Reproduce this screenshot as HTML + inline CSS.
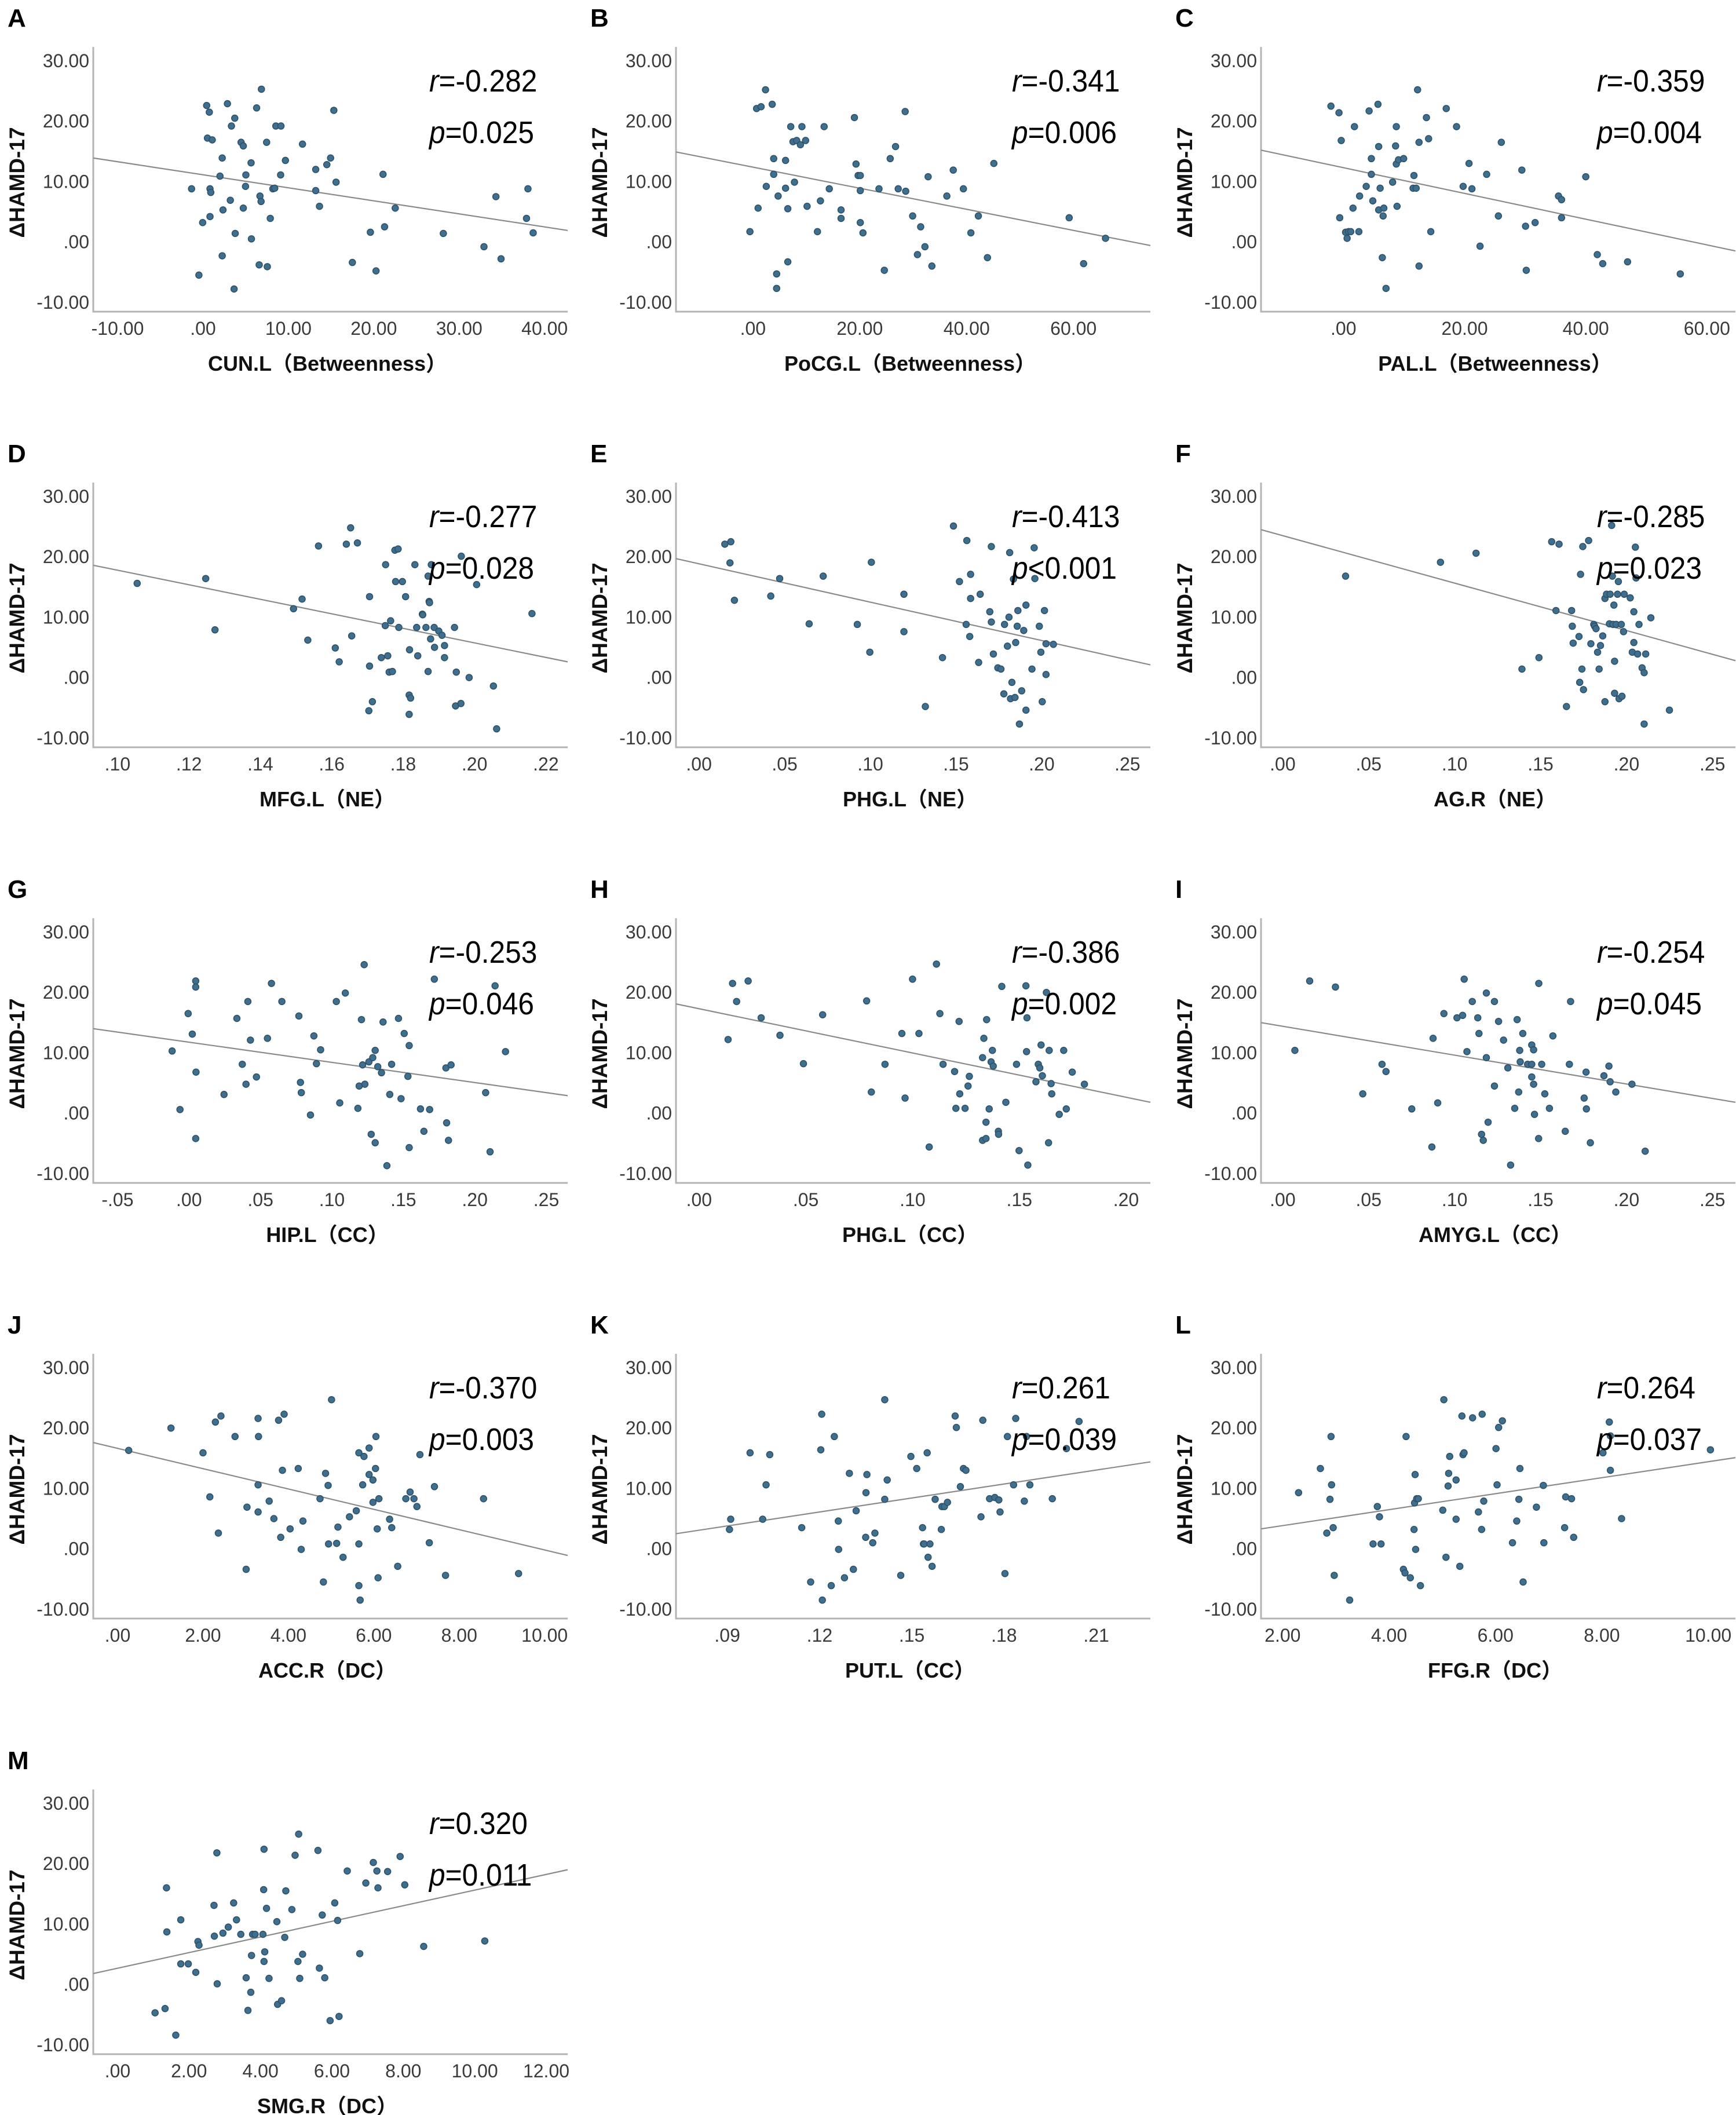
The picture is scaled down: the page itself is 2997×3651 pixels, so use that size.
<!DOCTYPE html>
<html><head><meta charset="utf-8"><style>
html,body{margin:0;padding:0;background:#fff;}
svg{display:block;}
</style></head><body>
<svg id="fig" width="2997" height="3651" viewBox="0 0 2997 3651" xmlns="http://www.w3.org/2000/svg" font-family="'Liberation Sans','Noto Sans CJK SC',sans-serif"></svg>
<script>
// ---------- data ----------
const panelLetters = ["A","B","C","D","E","F","G","H","I","J","K","L","M"];
const xLabels = ["CUN.L（Betweenness）","PoCG.L（Betweenness）","PAL.L（Betweenness）","MFG.L（NE）","PHG.L（NE）","AG.R（NE）","HIP.L（CC）","PHG.L（CC）","AMYG.L（CC）","ACC.R（DC）","PUT.L（CC）","FFG.R（DC）","SMG.R（DC）"];
const rTexts = ["-0.282","-0.341","-0.359","-0.277","-0.413","-0.285","-0.253","-0.386","-0.254","-0.370","0.261","0.264","0.320"];
const pTexts = ["=0.025","=0.006","=0.004","=0.028","<0.001","=0.023","=0.046","=0.002","=0.045","=0.003","=0.039","=0.037","=0.011"];
const yTicks = [30,20,10,0,-10];
const xTicksA = [-10,0,10,20,30,40];
const xTicksB = [0,20,40,60];
const xTicksC = [0,20,40,60];
const xTicksD = [.10,.12,.14,.16,.18,.20,.22];
const xTicksE = [0,.05,.10,.15,.20,.25];
const xTicksF = [0,.05,.10,.15,.20,.25];
const xTicksG = [-.05,0,.05,.10,.15,.20,.25];
const xTicksH = [0,.05,.10,.15,.20];
const xTicksI = [0,.05,.10,.15,.20,.25];
const xTicksJ = [0,2,4,6,8,10];
const xTicksK = [.09,.12,.15,.18,.21];
const xTicksL = [2,4,6,8,10];
const xTicksM = [0,2,4,6,8,10,12];
const xDomainMin = [-12.85,-14.4,-13.6,.0932,-.0134,-.0126,-.067,-.0108,-.0126,-.57,.0733,1.594,-.68];
const xDomainMax = [42.7,74.4,64.7,.2261,.2634,.2634,.265,.2114,.2634,10.54,.2276,10.51,12.6];
const fitStartY = [13.9,14.9,15.2,18.6,19.7,24.5,14.0,18.1,15.0,17.6,2.5,3.3,1.8];
const fitEndY = [1.9,-0.6,-1.5,2.6,2.1,2.8,2.9,1.8,1.8,-1.1,14.4,15.1,19.0];

const xA=[-1.34,-0.48,-0.04,0.43,0.52,0.74,0.82,0.82,0.91,1.08,2.25,1.99,2.34,2.25,2.86,3.2,3.33,3.72,3.77,3.64,4.46,4.72,4.72,4.98,5.02,5.63,5.67,6.28,6.58,6.67,6.8,6.84,7.45,7.53,7.88,8.18,8.4,8.53,9.13,9.09,9.65,11.65,13.2,13.2,13.64,14.5,14.94,15.32,15.58,17.49,19.6,20.26,21.08,21.26,22.51,28.14,32.9,34.3,34.9,38.05,37.88,38.66];
const yA=[8.8,-5.5,3.2,22.6,17.2,21.5,4.2,8.8,8.2,16.9,13.9,10.9,5.3,-2.3,22.9,6.9,19.2,20.5,1.4,-7.8,16.5,15.9,5.6,9.2,11.1,13.1,0.5,22.2,-3.8,7.6,6.7,25.3,16.5,-4.1,3.9,8.8,8.9,19.2,19.2,11.1,13.5,16.2,12.0,8.5,5.9,12.8,13.9,21.8,9.9,-3.4,1.6,-4.8,11.2,2.5,5.6,1.4,-0.8,7.5,-2.8,8.8,3.9,1.5];
const xB=[-0.56,0.97,0.69,1.53,2.36,2.5,3.61,3.89,3.89,4.44,4.44,4.72,6.11,6.11,6.53,6.53,7.08,7.5,7.78,8.19,8.89,9.17,9.86,10.14,12.08,12.64,13.33,14.3,16.5,16.5,19.0,19.3,19.7,20.1,20.1,20.1,20.6,24.6,23.6,25.7,26.7,27.2,28.5,28.6,29.9,30.8,31.4,32.2,32.8,33.5,36.3,37.5,39.4,40.8,42.2,43.9,45.1,59.2,61.9,66.0];
const yB=[1.7,5.6,22.1,22.4,25.2,9.2,22.8,13.8,11.2,-5.3,-7.7,7.6,13.5,8.9,5.5,-3.3,19.1,16.6,9.9,16.8,16.1,19.1,16.8,5.9,1.7,6.8,19.1,8.8,5.3,3.9,20.6,12.9,11.0,11.0,8.5,3.2,1.5,-4.7,8.8,13.8,15.8,8.8,21.6,8.4,4.3,-2.1,2.5,-0.8,10.8,-4.0,7.6,11.9,8.8,1.5,4.3,-2.6,13.0,4.0,-3.6,0.6];
const xC=[-2.06,-0.73,-0.61,-0.36,0.36,0.61,0.85,1.21,1.58,1.82,2.55,2.67,3.76,4.24,4.61,4.61,4.85,5.82,5.7,6.06,5.82,6.42,6.55,6.67,7.03,8.12,8.61,8.73,8.73,8.85,9.09,9.94,11.64,11.5,12.0,12.24,12.48,12.48,13.7,14.06,14.42,16.97,18.67,19.76,20.73,21.21,22.55,23.64,25.58,26.06,29.45,30.06,30.18,31.64,35.5,36.0,36.0,40.0,41.9,42.8,46.9,55.6];
const yC=[22.5,21.4,4.0,16.8,1.6,0.6,1.7,1.7,5.6,19.1,1.7,7.6,9.2,21.7,11.2,13.8,6.8,5.3,22.8,8.9,15.8,-2.6,4.3,5.6,-7.7,9.9,15.9,12.9,19.1,5.9,13.6,13.8,11.0,8.9,8.9,25.2,16.5,-4.0,20.6,17.1,1.7,22.1,19.1,9.2,13.0,8.8,-0.7,11.2,4.3,16.5,11.9,2.6,-4.7,3.2,7.6,7.0,4.0,10.8,-2.1,-3.6,-3.3,-5.3];
const xD=[.1055,.1247,.1273,.1493,.1517,.1533,.1563,.161,.1621,.1641,.1653,.1656,.1672,.1706,.1706,.1704,.1714,.1739,.175,.1751,.1757,.1761,.1765,.177,.1777,.1779,.1786,.1788,.1798,.1807,.1817,.1818,.1821,.1817,.1833,.1838,.1841,.1854,.1855,.1864,.187,.187,.1873,.1874,.1877,.1879,.1887,.1888,.19,.1909,.1916,.1916,.1947,.1944,.1949,.1962,.1963,.1985,.2006,.2053,.2062,.2161];
const yD=[15.6,16.4,7.9,11.4,13.0,6.2,21.8,4.9,2.6,22.1,24.8,6.9,22.3,13.4,1.9,-5.5,-4.0,3.3,8.6,18.7,3.6,0.9,9.4,1.0,21.1,15.9,21.3,8.3,15.9,13.4,-2.9,4.6,-3.4,-6.1,18.7,8.3,3.6,10.5,10.4,8.3,1.0,16.8,12.6,12.4,6.4,18.7,8.3,5.0,7.7,7.0,5.3,3.3,-4.7,8.3,0.9,-4.3,20.1,0.0,15.4,-1.4,-8.5,10.6];
const xE=[.0151,.0186,.0181,.0207,.0419,.0471,.0643,.0725,.0924,.1006,.0997,.1196,.1196,.1321,.1421,.1485,.152,.1563,.1559,.158,.1585,.1585,.1632,.1641,.1697,.1706,.1706,.1718,.1744,.1762,.1779,.1783,.18,.1809,.1813,.1818,.1826,.1835,.1844,.1848,.1857,.1861,.187,.1883,.1895,.1908,.1908,.1943,.1956,.196,.1986,.1995,.2003,.2016,.2025,.2025,.2068];
const yE=[22.1,22.5,19.0,12.8,13.5,16.4,8.9,16.8,8.8,19.1,4.2,13.8,7.6,-4.8,3.3,25.1,15.9,22.7,8.8,6.8,13.1,17.1,2.5,13.8,10.9,9.2,21.7,3.9,1.6,1.4,-2.7,8.8,5.2,10.0,20.7,-3.5,-0.8,16.3,-3.3,5.8,8.5,11.1,-7.7,-2.2,7.8,-5.4,12.0,1.4,21.5,16.4,8.5,4.2,-4.0,11.1,0.5,5.6,5.5];
const xF=[.0366,.0918,.1125,.1392,.1491,.1565,.1608,.159,.1651,.1681,.1685,.169,.1724,.1728,.1733,.1741,.175,.1746,.178,.1793,.181,.1815,.1823,.1832,.1841,.1849,.1862,.1875,.1875,.1884,.1901,.1905,.1914,.1918,.1922,.1927,.1931,.1931,.194,.1948,.1953,.1957,.197,.1974,.1983,.1987,.2022,.2034,.2043,.2043,.2052,.2056,.2065,.2073,.2091,.2103,.2103,.2112,.2142,.225];
const yF=[16.8,19.1,20.6,1.4,3.3,22.5,22.1,11.1,-4.8,11.1,8.5,5.7,6.8,-0.8,17.1,1.4,-2.0,21.7,22.7,5.6,8.8,8.5,8.1,4.2,1.4,5.3,6.9,13.1,-4.0,13.8,8.9,13.8,25.2,16.8,8.8,12.0,2.7,-2.6,8.8,13.8,15.9,-3.5,8.8,-3.1,7.6,13.8,13.2,4.2,10.9,5.8,21.6,16.5,3.9,8.8,1.6,0.8,-7.7,3.9,9.9,-5.4];
const xG=[-.0118,-.0063,-.0006,.0023,.0047,.0047,.0049,.0047,.0245,.0335,.0373,.0399,.0412,.043,.0472,.0549,.0577,.065,.0769,.078,.0786,.085,.0874,.0892,.0921,.1031,.1055,.1094,.1182,.1191,.1207,.1215,.1226,.1231,.1259,.1275,.1286,.1303,.1303,.1321,.1347,.1358,.1385,.1405,.1418,.1466,.1484,.1506,.1532,.1541,.1541,.162,.1644,.1684,.1717,.1798,.1803,.1816,.1834,.2076,.2107,.2142,.2215];
const yG=[10.3,0.6,16.5,13.1,21.9,20.9,6.8,-4.2,3.1,15.7,8.1,4.8,18.5,12.1,6.0,12.4,21.5,18.5,16.1,5.1,3.4,-0.3,12.8,8.2,10.5,18.5,1.7,19.9,0.8,4.5,15.5,8.0,24.6,4.8,8.5,-3.5,9.2,10.4,-4.9,7.7,6.7,15.1,-8.7,3.1,8.1,15.7,2.4,13.2,6.1,11.2,-5.7,0.7,-3.0,0.6,22.2,7.5,-1.6,-4.5,8.0,3.4,-6.4,21.1,10.2];
const xH=[.0136,.0157,.0176,.023,.0291,.0379,.0489,.0579,.0785,.0807,.0871,.095,.0965,.1,.103,.1078,.1112,.1128,.1143,.1197,.1203,.1218,.1221,.1246,.126,.1266,.1328,.1328,.1334,.1344,.1344,.1347,.1359,.1368,.1374,.1378,.1402,.1403,.1418,.1437,.1487,.1499,.1531,.1534,.1536,.154,.1578,.1589,.1596,.1602,.1608,.1627,.1637,.164,.1649,.1652,.1687,.1708,.172,.1748,.1805];
const yH=[12.2,21.5,18.5,21.9,15.8,12.9,8.2,16.3,18.6,3.5,8.1,13.2,2.5,22.2,13.2,-5.6,24.7,16.5,8.1,6.9,0.8,15.2,3.2,0.8,4.5,6.1,-4.5,9.2,12.4,-4.2,-1.5,15.5,0.7,8.5,10.4,7.8,-3.0,-3.5,21.0,1.8,8.1,-6.2,21.1,10.2,15.8,-8.6,5.2,8.1,7.5,11.3,6.2,20.0,-4.9,10.4,4.9,3.2,-0.2,10.4,0.7,6.8,4.8];
const xI=[.0071,.0157,.0307,.0466,.0578,.0601,.0751,.0868,.0875,.0902,.0938,.1014,.1047,.1056,.1072,.1103,.1135,.1142,.1157,.1167,.1185,.1185,.1195,.1232,.1232,.1256,.1285,.131,.1326,.135,.1364,.1373,.1379,.1382,.1397,.1425,.1449,.1449,.146,.1449,.146,.1465,.1489,.149,.1507,.1525,.1552,.1572,.1644,.1668,.1675,.1754,.1765,.1767,.179,.1869,.1898,.1905,.1938,.2032,.2109];
const yI=[10.4,21.9,20.9,3.2,8.1,6.9,0.7,-5.6,12.4,1.7,16.5,15.8,16.2,22.2,10.2,18.5,15.8,13.2,-3.5,-4.5,19.9,9.2,-1.5,18.5,4.5,15.2,12.1,7.5,-8.6,0.8,15.5,3.5,10.4,8.5,13.2,8.1,11.3,6.0,10.5,8.1,4.8,-0.2,-4.2,21.5,8.1,3.2,0.8,12.8,-3.0,8.1,18.5,2.5,6.8,0.7,-4.9,6.2,7.8,5.2,3.5,4.8,-6.3];
const xJ=[0.26,1.25,2.0,2.16,2.29,2.36,2.42,2.75,3.01,3.03,3.29,3.3,3.29,3.29,3.55,3.66,3.77,3.82,3.86,3.9,4.04,4.23,4.3,4.34,4.74,4.82,4.87,4.93,4.94,5.01,5.13,5.16,5.28,5.43,5.59,5.65,5.65,5.65,5.68,5.74,5.77,5.89,5.89,5.98,5.98,6.04,6.05,6.08,6.1,6.12,6.37,6.42,6.56,6.75,6.85,6.94,7.01,7.08,7.3,7.42,7.68,8.57,9.39];
const yJ=[16.3,20.0,15.9,8.6,21.0,2.6,22.0,18.6,-3.4,6.9,21.6,18.6,10.6,6.1,7.9,5.0,21.3,1.9,13.0,22.3,3.3,13.3,-0.1,4.6,8.3,-5.5,12.5,10.5,0.8,24.7,0.9,3.6,-1.4,5.3,6.3,15.9,0.8,-6.1,-8.5,10.6,15.3,16.7,12.3,11.4,7.7,13.3,18.6,3.3,-4.8,8.3,4.9,3.5,-2.9,8.3,9.4,8.3,7.0,15.6,1.0,10.3,-4.4,8.3,-4.1];
const xK=[.0907,.0911,.0974,.1015,.1026,.1038,.1142,.1171,.1204,.1207,.1209,.1238,.1248,.1261,.1262,.1281,.1297,.131,.1319,.135,.1351,.1354,.1373,.138,.1412,.1412,.142,.1464,.1497,.1516,.1535,.1538,.154,.155,.1553,.1559,.1566,.1576,.1596,.1598,.1606,.1616,.1641,.1645,.1658,.1668,.1676,.1725,.1731,.1753,.177,.1783,.1787,.1803,.1811,.1831,.1838,.1866,.1873,.1884,.1957,.2003,.2044];
const yK=[3.2,4.9,15.9,4.9,10.6,15.6,3.5,-5.5,16.4,22.3,-8.5,-6.1,18.6,4.6,-0.1,-4.8,12.5,-3.4,6.3,1.9,9.3,12.3,1.0,2.6,24.7,8.2,11.4,-4.4,15.3,13.3,3.5,0.8,0.8,15.9,-1.4,0.8,-2.9,8.2,3.2,7.0,7.0,7.7,22.0,20.1,10.3,13.3,13.0,5.3,21.3,8.3,8.5,8.1,6.1,-4.1,18.6,10.6,21.6,7.9,18.6,10.6,8.3,16.6,21.1];
const xL=[2.3,2.71,2.83,2.89,2.91,2.92,2.95,2.97,3.26,3.7,3.78,3.82,3.85,4.27,4.3,4.32,4.4,4.47,4.48,4.49,4.5,4.52,4.55,4.59,5.01,5.03,5.07,5.11,5.12,5.14,5.26,5.26,5.33,5.37,5.39,5.41,5.57,5.68,5.74,5.75,5.78,6.01,6.03,6.06,6.13,6.32,6.4,6.44,6.46,6.52,6.77,6.9,6.91,7.3,7.32,7.43,7.47,8.02,8.14,8.16,8.16,8.37,10.04];
const yL=[9.3,13.3,2.6,8.2,18.6,10.6,3.5,-4.4,-8.5,0.8,7.0,5.3,0.8,-3.4,-4.0,18.6,-4.8,3.2,7.6,12.3,-0.1,8.3,8.3,-6.1,6.4,24.7,-1.4,10.4,12.5,15.3,4.9,11.4,-2.9,22.0,15.6,15.9,21.7,6.1,3.2,22.3,7.9,16.6,10.6,20.1,21.2,1.0,4.6,8.2,13.3,-5.5,6.9,10.5,1.0,3.5,8.6,8.3,1.9,15.9,21.0,18.7,13.0,5.0,16.4];
const xM=[1.05,1.33,1.37,1.38,1.63,1.77,1.77,1.98,2.19,2.25,2.28,2.7,2.71,2.78,2.79,2.95,3.1,3.25,3.33,3.45,3.6,3.65,3.73,3.75,3.78,3.85,4.07,4.09,4.1,4.1,4.12,4.17,4.24,4.46,4.48,4.59,4.68,4.71,4.88,4.97,5.05,5.07,5.1,5.18,5.61,5.65,5.73,5.8,5.95,6.08,6.16,6.2,6.43,6.78,6.95,7.16,7.26,7.29,7.56,7.91,8.04,8.57,10.28];
const yM=[-4.7,-4.0,16.0,8.7,-8.4,10.7,3.4,3.4,2.0,7.1,6.5,13.1,8.0,21.8,0.1,8.5,9.5,13.5,10.7,8.3,1.1,-4.3,-1.3,4.8,8.3,8.3,8.3,15.7,3.8,22.4,5.4,12.6,1.0,10.4,-3.3,-2.7,7.8,15.5,12.4,21.4,3.8,24.9,1.0,5.0,22.2,2.7,11.5,1.1,-6.0,13.5,10.6,-5.3,18.8,5.1,16.8,20.2,18.8,16.0,18.7,21.2,16.5,6.3,7.2];

const xTickSets=[xTicksA,xTicksB,xTicksC,xTicksD,xTicksE,xTicksF,xTicksG,xTicksH,xTicksI,xTicksJ,xTicksK,xTicksL,xTicksM];
const xSeries=[xA,xB,xC,xD,xE,xF,xG,xH,xI,xJ,xK,xL,xM];
const ySeries=[yA,yB,yC,yD,yE,yF,yG,yH,yI,yJ,yK,yL,yM];

// ---------- drawing ----------
const NS="http://www.w3.org/2000/svg";
const svg=document.getElementById('fig');
const COLX=[0,1006,2016], ROWH=752;
const PL=161, PR=980, PT=81, PB=538;
function mk(tag,attrs,parent){const e=document.createElementNS(NS,tag);for(const k in attrs)e.setAttribute(k,attrs[k]);(parent||svg).appendChild(e);return e;}
function fmt(v){let s=v.toFixed(2);return s.replace(/^(-?)0\./,'$1.');}
function yScale(v){return 105+(30-v)*10.42;}

panelLetters.forEach((L,i)=>{
  const ox=COLX[i%3], oy=Math.floor(i/3)*ROWH;
  const g=mk('g',{transform:`translate(${ox},${oy})`});
  
  
  const d0=xDomainMin[i], d1=xDomainMax[i];
  const xs=v=>PL+(v-d0)/(d1-d0)*(PR-PL);

  const lt=mk('text',{x:13,y:46,'font-size':44,'font-weight':'bold',fill:'#000'},g);
  lt.textContent=L;
  
  

  const ax=mk('path',{d:`M${PL},${PT} V${PB} H${PR}`,stroke:'#b4b4b4','stroke-width':3,fill:'none'},g);
  
  

  yTicks.forEach(t=>{
    const tx=mk('text',{x:154,y:yScale(t)+11,'font-size':32,fill:'#3a3a3a','text-anchor':'end'},g);
    tx.textContent=fmt(t);
    
    
  });
  xTickSets[i].forEach(t=>{
    const tx=mk('text',{x:xs(t),y:578,'font-size':32,fill:'#3a3a3a','text-anchor':'middle'},g);
    tx.textContent=fmt(t);
    
    
  });

  const yl=mk('text',{transform:'translate(42,315) rotate(-90)','font-size':37,'font-weight':'bold',fill:'#111','text-anchor':'middle'},g);
  yl.textContent='ΔHAMD-17';
  
  

  const xl=mk('text',{x:565,y:640,'font-size':36,'font-weight':'bold',fill:'#111','text-anchor':'middle'},g);
  xl.textContent=xLabels[i];
  
  

  const fl=mk('line',{x1:xs(d0),y1:yScale(fitStartY[i]),x2:xs(d1),y2:yScale(fitEndY[i]),stroke:'#8a8a8a','stroke-width':2.2},g);
  
  

  const xv=xSeries[i], yv=ySeries[i];
  for(let k=0;k<xv.length;k++){
    const c=mk('circle',{cx:xs(xv[k]),cy:yScale(yv[k]),r:5.5,fill:'#3f6f8f',stroke:'#2c5068','stroke-width':1.5},g);
    
    
  }

  const rt=mk('text',{x:741,y:158,'font-size':54,fill:'#000'},g);
  rt.innerHTML='<tspan font-style="italic">r</tspan>='+rTexts[i];
  
  
  const pt=mk('text',{x:741,y:247,'font-size':54,fill:'#000'},g);
  pt.innerHTML='<tspan font-style="italic">p</tspan>'+pTexts[i].replace('<','&lt;');
  
  
  [rt,pt].forEach(t=>{const w=t.getComputedTextLength();if(w>0){t.setAttribute('textLength',(w*0.92).toFixed(1));t.setAttribute('lengthAdjust','spacingAndGlyphs');}});
});
</script>
</body></html>
